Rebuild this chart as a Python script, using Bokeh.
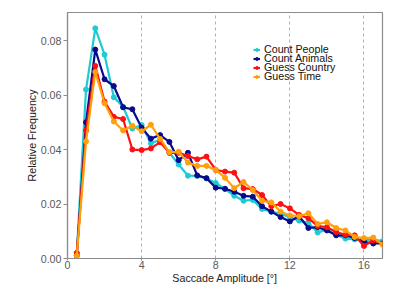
from bokeh.plotting import figure
from bokeh.models import Range1d, FixedTicker, Legend, LegendItem
from bokeh.embed import file_html
from bokeh.resources import INLINE

amplitude = [0.5, 1.0, 1.5, 2.0, 2.5, 3.0, 3.5, 4.0, 4.5, 5.0, 5.5, 6.0, 6.5, 7.0, 7.5, 8.0, 8.5,
             9.0, 9.5, 10.0, 10.5, 11.0, 11.5, 12.0, 12.5, 13.0, 13.5, 14.0, 14.5, 15.0, 15.5, 16.0, 16.5, 17.0]

count_people = [0.002, 0.062, 0.0845, 0.0748, 0.0592, 0.0557, 0.0477, 0.049, 0.0423, 0.0436, 0.0388, 0.0345,
                0.0304, 0.0303, 0.0294, 0.0277, 0.0255, 0.023, 0.0212, 0.0215, 0.0182, 0.0172, 0.0164, 0.0152,
                0.0139, 0.0131, 0.0095, 0.0107, 0.0087, 0.0073, 0.007, 0.0067, 0.007, 0.0063]
count_animals = [0.001, 0.050, 0.0767, 0.0658, 0.0633, 0.0555, 0.0548, 0.048, 0.0440, 0.0453, 0.0428, 0.0361,
                 0.0388, 0.0305, 0.0295, 0.026, 0.0256, 0.0245, 0.023, 0.0227, 0.0192, 0.0172, 0.0152, 0.0136,
                 0.0155, 0.0112, 0.0115, 0.0103, 0.0085, 0.0085, 0.0075, 0.0061, 0.0055, 0.0055]
guess_country = [0.002, 0.047, 0.0707, 0.0576, 0.052, 0.0512, 0.040, 0.0398, 0.0404, 0.0427, 0.0388, 0.0388,
                 0.0376, 0.0364, 0.0374, 0.0325, 0.0319, 0.0315, 0.0258, 0.0255, 0.0233, 0.0192, 0.020, 0.0184,
                 0.016, 0.0148, 0.0119, 0.0115, 0.0097, 0.0087, 0.0085, 0.0046, 0.0067, 0.0055]
guess_time = [0.001, 0.043, 0.0685, 0.057, 0.0503, 0.047, 0.0487, 0.0467, 0.0491, 0.0439, 0.039, 0.0392,
              0.0352, 0.034, 0.034, 0.0325, 0.0296, 0.0258, 0.0281, 0.0251, 0.0212, 0.0206, 0.0172, 0.0158,
              0.0155, 0.0166, 0.0127, 0.0133, 0.0112, 0.0103, 0.0079, 0.0075, 0.0077, 0.0051]

series_names = ["Count People", "Count Animals", "Guess Country", "Guess Time"]
series_values = [count_people, count_animals, guess_country, guess_time]
series_colors = ["#1ccbd3", "#0a0a8c", "#ff1010", "#ffa00a"]

x_ticks = [0, 4, 8, 12, 16]
y_ticks = [0.0, 0.02, 0.04, 0.06, 0.08]

FONT = "Liberation Sans"
FS = "10.7px"

p = figure(width=407, height=286, output_backend="svg", toolbar_location=None,
           x_range=Range1d(0, 17), y_range=Range1d(0, 0.0903),
           min_border_left=67, min_border_right=25, min_border_top=12, min_border_bottom=26)
p.background_fill_color = "white"
p.border_fill_color = "white"
p.outline_line_color = "#8c8c8c"
p.outline_line_width = 1.2

p.xaxis.ticker = FixedTicker(ticks=x_ticks)
p.yaxis.ticker = FixedTicker(ticks=y_ticks)
p.yaxis.major_label_overrides = {v: "%.2f" % v for v in y_ticks}
for ax in (p.xaxis[0], p.yaxis[0]):
    ax.axis_line_color = "#8c8c8c"
    ax.axis_line_width = 1.2
    ax.major_tick_line_color = "#8c8c8c"
    ax.major_tick_in = 0
    ax.minor_tick_line_color = None
    ax.major_label_text_font = FONT
    ax.major_label_text_font_size = FS
    ax.major_label_text_color = "#5a5a5a"
    ax.axis_label_text_font = FONT
    ax.axis_label_text_font_size = FS
    ax.axis_label_text_font_style = "normal"
    ax.axis_label_text_color = "#222222"
    ax.axis_label_standoff = 0
p.yaxis.major_tick_out = 4
p.yaxis.major_label_standoff = 2
p.xaxis.major_tick_out = 2
p.xaxis.major_label_standoff = 0
p.xaxis.axis_label = "Saccade Amplitude [°]"
p.yaxis.axis_label = "Relative Frequency"

p.ygrid.grid_line_color = None
p.xgrid.grid_line_color = "#b0b0b0"
p.xgrid.grid_line_dash = "3 3"
p.xgrid.grid_line_width = 1

legend_y = [203, 194, 185, 176]
for name, vals, col, ly in zip(series_names, series_values, series_colors, legend_y):
    lr = p.line(amplitude, vals, line_color=col, line_width=2.2)
    sr = p.scatter(amplitude, vals, size=5, fill_color=col, line_color=col)
    lg = Legend(items=[LegendItem(label=name, renderers=[lr, sr])], location=(186, ly))
    lg.label_text_font = FONT
    lg.label_text_font_size = FS
    lg.label_text_color = "#111111"
    lg.label_height = 9
    lg.glyph_height = 9
    lg.glyph_width = 7
    lg.spacing = 0
    lg.padding = 0
    lg.margin = 0
    lg.label_standoff = 4
    lg.border_line_color = None
    lg.background_fill_alpha = 0
    p.add_layout(lg)

open("out.html", "w").write(file_html(p, INLINE))
